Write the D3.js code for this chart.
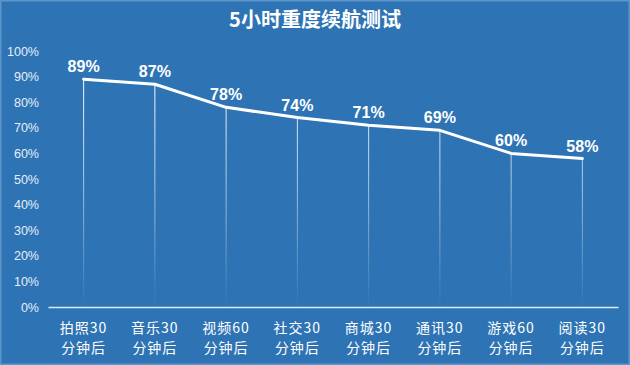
<!DOCTYPE html>
<html><head><meta charset="utf-8">
<script src="https://cdn.jsdelivr.net/npm/d3@7"></script>
<style>body{margin:0;background:#2e74b5;}svg{display:block;}</style>
</head><body><svg id="c" width="630" height="365"></svg>
<script>
const title = "5小时重度续航测试";
const categoriesLine1 = ["拍照30","音乐30","视频60","社交30","商城30","通讯30","游戏60","阅读30"];
const categoriesLine2 = ["分钟后","分钟后","分钟后","分钟后","分钟后","分钟后","分钟后","分钟后"];
const values = [89,87,78,74,71,69,60,58];
const yTicks = [0,10,20,30,40,50,60,70,80,90,100];

const W=630,H=365;
const m={left:48,right:12,top:51,bottom:58};
const svg=d3.select("#c");
const font="'Noto Sans CJK SC','Helvetica Neue',Arial,sans-serif";
const latin="'Helvetica Neue',Arial,'Liberation Sans',sans-serif";
svg.append("rect").attr("width",W).attr("height",H).attr("fill","#2e74b5");
svg.append("rect").attr("x",0.75).attr("y",0.75).attr("width",W-1.5).attr("height",H-1.5)
  .attr("fill","none").attr("stroke","#5b95cc").attr("stroke-width",1.5);

const x=d3.scaleBand().domain(d3.range(values.length)).range([m.left,W-m.right]).padding(0);
const y=d3.scaleLinear().domain([0,100]).range([H-m.bottom,m.top]);

const defs=svg.append("defs");
const g=defs.append("linearGradient").attr("id","fade").attr("gradientUnits","userSpaceOnUse")
  .attr("x1",0).attr("x2",0).attr("y1",y(90)).attr("y2",y(0));
g.append("stop").attr("offset","0%").attr("stop-color","#ffffff").attr("stop-opacity",1);
g.append("stop").attr("offset","55%").attr("stop-color","#ffffff").attr("stop-opacity",0.5);
g.append("stop").attr("offset","100%").attr("stop-color","#ffffff").attr("stop-opacity",0.0);

svg.append("text").attr("x",W/2).attr("y",27).attr("text-anchor","middle")
  .attr("fill","#fff").attr("font-family",font).attr("font-weight","bold").attr("font-size",20).text(title);

// y axis labels
const ya=svg.append("g").attr("transform",`translate(${m.left-9},0)`)
  .call(d3.axisLeft(y).tickValues(yTicks).tickFormat(d=>d+"%").tickSize(0).tickPadding(0));
ya.select(".domain").remove();
ya.selectAll("text").attr("fill","#e6eef8").attr("font-family",latin).attr("font-size",12.5);

// drop lines
svg.append("g").selectAll("line").data(values).join("line")
  .attr("x1",(d,i)=>x(i)+x.bandwidth()/2).attr("x2",(d,i)=>x(i)+x.bandwidth()/2)
  .attr("y1",d=>y(d)).attr("y2",y(0))
  .attr("stroke","url(#fade)").attr("stroke-width",1);

// x axis
const xa=svg.append("g").attr("transform",`translate(0,${y(0)})`)
  .call(d3.axisBottom(x).tickSize(0).tickFormat(""));
xa.select(".domain").attr("stroke","#dce9f6").attr("stroke-width",1.5);

const cx=(d,i)=>x(i)+x.bandwidth()/2;
svg.append("g").selectAll("text").data(categoriesLine1).join("text")
  .attr("x",cx).attr("y",y(0)+26).attr("text-anchor","middle")
  .attr("fill","#fff").attr("font-family",font).attr("font-size",14).attr("letter-spacing",1)
  .text(d=>d);
svg.append("g").selectAll("text").data(categoriesLine2).join("text")
  .attr("x",cx).attr("y",y(0)+46).attr("text-anchor","middle")
  .attr("fill","#fff").attr("font-family",font).attr("font-size",14).attr("letter-spacing",1)
  .text(d=>d);

// line
const line=d3.line().x((d,i)=>x(i)+x.bandwidth()/2).y(d=>y(d));
svg.append("path").datum(values).attr("d",line).attr("fill","none")
  .attr("stroke","#fff").attr("stroke-width",3).attr("stroke-linejoin","round").attr("stroke-linecap","round");

svg.append("g").selectAll("text").data(values).join("text")
  .attr("x",cx).attr("y",d=>y(d)-7).attr("text-anchor","middle")
  .attr("fill","#fff").attr("font-family",latin)
  .attr("font-weight","bold").attr("font-size",16).text(d=>d+"%");
</script></body></html>
